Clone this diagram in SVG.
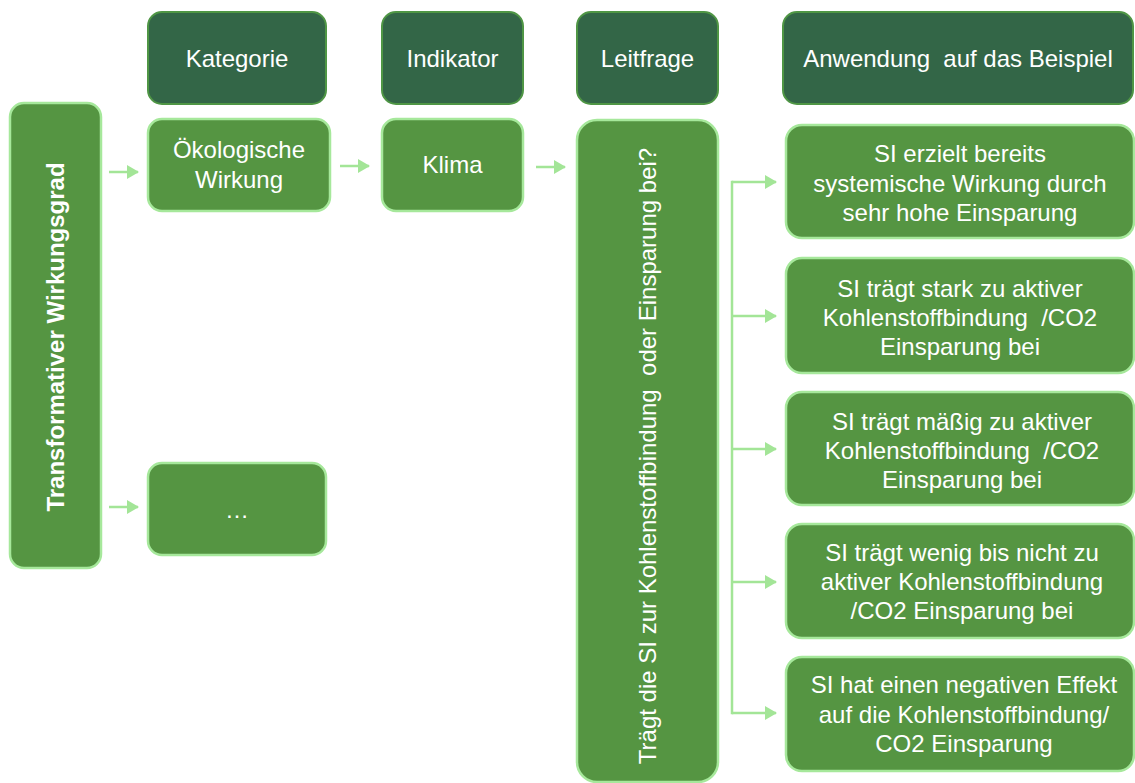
<svg xmlns="http://www.w3.org/2000/svg" width="1135" height="783" viewBox="0 0 1135 783">
  <defs>
    <style>
      .head rect { fill: #336647; stroke: #4f9645; stroke-width: 2; }
      .box rect { fill: #559542; stroke: #a6e89b; stroke-width: 2.5; }
      text { font-family: "Liberation Sans", Arial, sans-serif; font-size: 24px; fill: #ffffff; text-anchor: middle; }
      .bold { font-weight: bold; }
      .wire { fill: none; stroke: #a3e597; stroke-width: 2.5; }
    </style>
    <marker id="arrow" viewBox="0 0 12 14" refX="11" refY="7" markerWidth="12" markerHeight="14" markerUnits="userSpaceOnUse" orient="auto">
      <path d="M0,0 L12,7 L0,14 Z" fill="#a3e597"/>
    </marker>
  </defs>
  <rect width="1135" height="783" fill="#ffffff"/>

  <!-- column headers -->
  <g id="head-kategorie" class="head">
    <rect x="148" y="12" width="178" height="92" rx="14"/>
    <text x="237" y="67">Kategorie</text>
  </g>
  <g id="head-indikator" class="head">
    <rect x="382" y="12" width="141" height="92" rx="14"/>
    <text x="452.5" y="67">Indikator</text>
  </g>
  <g id="head-leitfrage" class="head">
    <rect x="577" y="12" width="141" height="92" rx="14"/>
    <text x="647.5" y="67">Leitfrage</text>
  </g>
  <g id="head-anwendung" class="head">
    <rect x="783" y="12" width="350" height="92" rx="14"/>
    <text x="958" y="67" xml:space="preserve">Anwendung  auf das Beispiel</text>
  </g>

  <!-- dimension -->
  <g id="transformativ" class="box">
    <rect x="10" y="103" width="91" height="465" rx="14"/>
    <text class="bold" transform="translate(64,337) rotate(-90)">Transformativer Wirkungsgrad</text>
  </g>

  <!-- categories -->
  <g id="oekologisch" class="box">
    <rect x="148" y="119" width="182" height="92" rx="14"/>
    <text x="239" y="158">Ökologische</text>
    <text x="239" y="188">Wirkung</text>
  </g>
  <g id="weitere" class="box">
    <rect x="148" y="463" width="178" height="92" rx="14"/>
    <text x="237" y="518">…</text>
  </g>

  <!-- indicator -->
  <g id="klima" class="box">
    <rect x="382" y="119" width="141" height="92" rx="14"/>
    <text x="452.5" y="173">Klima</text>
  </g>

  <!-- guiding question -->
  <g id="frage" class="box">
    <rect x="577" y="120" width="141" height="662" rx="20"/>
    <text transform="translate(656,456) rotate(-90)" xml:space="preserve">Trägt die SI zur Kohlenstoffbindung  oder Einsparung bei?</text>
  </g>

  <!-- rating levels -->
  <g id="stufe-1" class="box">
    <rect x="786" y="125" width="348" height="113" rx="16"/>
    <text x="960" y="162">SI erzielt bereits</text>
    <text x="960" y="191.5">systemische Wirkung durch</text>
    <text x="960" y="221">sehr hohe Einsparung</text>
  </g>
  <g id="stufe-2" class="box">
    <rect x="786" y="258" width="348" height="115" rx="16"/>
    <text x="960" y="297">SI trägt stark zu aktiver</text>
    <text x="960" y="326" xml:space="preserve">Kohlenstoffbindung  /CO2</text>
    <text x="960" y="355">Einsparung bei</text>
  </g>
  <g id="stufe-3" class="box">
    <rect x="786" y="392" width="348" height="113" rx="16"/>
    <text x="962" y="430">SI trägt mäßig zu aktiver</text>
    <text x="962" y="459" xml:space="preserve">Kohlenstoffbindung  /CO2</text>
    <text x="962" y="488">Einsparung bei</text>
  </g>
  <g id="stufe-4" class="box">
    <rect x="786" y="524" width="348" height="114" rx="16"/>
    <text x="962" y="561">SI trägt wenig bis nicht zu</text>
    <text x="962" y="590">aktiver Kohlenstoffbindung</text>
    <text x="962" y="619">/CO2 Einsparung bei</text>
  </g>
  <g id="stufe-5" class="box">
    <rect x="786" y="657" width="348" height="114" rx="16"/>
    <text x="964" y="693">SI hat einen negativen Effekt</text>
    <text x="964" y="723">auf die Kohlenstoffbindung/</text>
    <text x="964" y="752">CO2 Einsparung</text>
  </g>

  <!-- connectors -->
  <g id="connectors" class="wire">
    <line x1="109" y1="172" x2="138" y2="172" marker-end="url(#arrow)"/>
    <line x1="109" y1="507" x2="138" y2="507" marker-end="url(#arrow)"/>
    <line x1="340" y1="166" x2="369" y2="166" marker-end="url(#arrow)"/>
    <line x1="536" y1="167" x2="565" y2="167" marker-end="url(#arrow)"/>
    <!-- bracket spine feeding the five rating levels -->
    <line x1="732" y1="180.75" x2="732" y2="714.25"/>
    <line x1="732" y1="182" x2="776" y2="182" marker-end="url(#arrow)"/>
    <line x1="732" y1="316" x2="776" y2="316" marker-end="url(#arrow)"/>
    <line x1="732" y1="449" x2="776" y2="449" marker-end="url(#arrow)"/>
    <line x1="732" y1="582" x2="776" y2="582" marker-end="url(#arrow)"/>
    <line x1="732" y1="713" x2="776" y2="713" marker-end="url(#arrow)"/>
  </g>
</svg>
